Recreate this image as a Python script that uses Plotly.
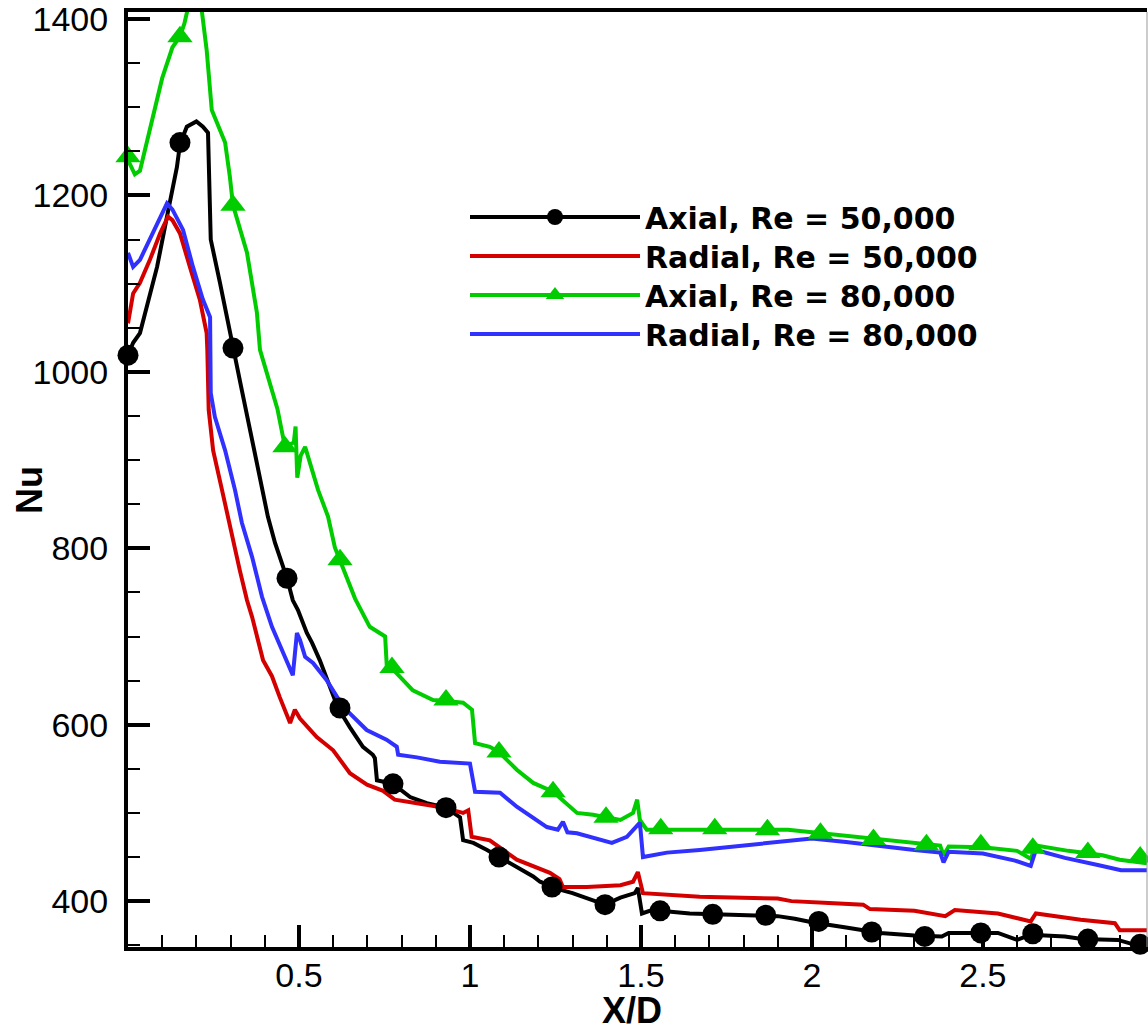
import plotly.graph_objects as go

# ---------------- data ----------------
axial50_x = [0.0, 0.015, 0.035, 0.055, 0.085, 0.114, 0.143, 0.152, 0.172, 0.2, 0.219, 0.234, 0.238, 0.242,
             0.269, 0.298, 0.307, 0.333, 0.357, 0.38, 0.409, 0.43, 0.45, 0.465, 0.482, 0.497, 0.523, 0.538,
             0.561, 0.591, 0.614, 0.649, 0.687, 0.716, 0.722, 0.728, 0.766, 0.775, 0.825, 0.874, 0.93, 0.971,
             0.98, 1.01, 1.05, 1.085, 1.137, 1.185, 1.205, 1.24, 1.263, 1.30, 1.322, 1.36, 1.395, 1.44, 1.482,
             1.491, 1.503, 1.526, 1.556, 1.643, 1.71, 1.79, 1.9, 1.95, 2.0, 2.1, 2.2, 2.3, 2.38, 2.40, 2.544,
             2.60, 2.64, 2.74, 2.79, 2.895, 2.94, 2.98]
axial50_nu = [1019, 1033, 1044, 1074, 1119, 1176, 1232, 1258, 1278, 1284, 1278, 1271, 1200, 1150,
              1101, 1048, 1027, 979, 934, 892, 836, 806, 783, 766, 741, 730, 704, 693,
              673, 643, 619, 597, 575, 566, 562, 537, 534, 533, 518, 511, 506, 495,
              469, 466, 458, 450, 439, 428, 422, 416, 413, 409, 406, 401, 396, 404, 409,
              415, 386, 389, 389, 386, 385, 384, 383, 380, 376, 370, 364, 361, 360, 364, 364,
              356, 362, 360, 357, 356, 351, 350]

radial50_x = [0.0, 0.015, 0.035, 0.064, 0.094, 0.117, 0.13, 0.152, 0.181, 0.21, 0.23, 0.232, 0.236, 0.249,
              0.275, 0.304, 0.327, 0.348, 0.363, 0.395, 0.421, 0.444, 0.474, 0.488, 0.503, 0.552, 0.6, 0.649,
              0.699, 0.746, 0.78, 0.845, 0.921, 0.98, 0.995, 1.005, 1.058, 1.137, 1.234, 1.262, 1.272, 1.342,
              1.44, 1.477, 1.491, 1.506, 1.672, 1.9, 1.94, 2.05, 2.15, 2.17, 2.30, 2.39, 2.418, 2.544, 2.64,
              2.655, 2.786, 2.886, 2.90, 2.98]
radial50_nu = [1055, 1089, 1101, 1127, 1157, 1176, 1172, 1157, 1119, 1082, 1044, 1025, 957, 911,
               866, 813, 775, 741, 722, 673, 655, 631, 602, 617, 607, 586, 571, 545,
               532, 525, 515, 511, 506, 500, 503, 473, 469, 447, 432, 425, 416, 416,
               418, 422, 433, 409, 405, 403, 400, 398, 396, 391, 389, 383, 390, 386, 377,
               386, 379, 375, 367, 367]

axial80_x = [0.0, 0.02, 0.035, 0.06, 0.08, 0.10, 0.13, 0.152, 0.165, 0.175, 0.215, 0.23, 0.245, 0.284,
             0.298, 0.307, 0.348, 0.377, 0.386, 0.409, 0.437, 0.459, 0.485, 0.49, 0.495, 0.505, 0.518,
             0.556, 0.585, 0.605, 0.62, 0.664, 0.707, 0.737, 0.752, 0.757, 0.772, 0.833, 0.892, 0.93,
             0.98, 1.006, 1.015, 1.058, 1.085, 1.137, 1.185, 1.243, 1.313, 1.36, 1.398, 1.44, 1.477,
             1.489, 1.497, 1.517, 1.93, 2.0, 2.1, 2.2, 2.3, 2.375, 2.385, 2.40, 2.5, 2.6, 2.64, 2.655,
             2.75, 2.85, 2.9, 2.98]
axial80_nu = [1240, 1224, 1228, 1270, 1300, 1333, 1368, 1380, 1395, 1412, 1412, 1365, 1297, 1260,
              1221, 1189, 1135, 1067, 1025, 994, 958, 915, 920, 938, 880, 905, 915,
              866, 836, 801, 787, 743, 711, 704, 700, 665, 664, 639, 628, 627,
              625, 617, 579, 575, 569, 549, 534, 524, 500, 498, 495, 492, 500,
              515, 492, 481, 481, 478, 474, 470, 466, 463, 452, 462, 461, 457, 448, 463,
              457, 452, 447, 443]

radial80_x = [0.0, 0.015, 0.035, 0.064, 0.094, 0.114, 0.13, 0.161, 0.19, 0.219, 0.24, 0.242, 0.254, 0.284,
              0.313, 0.333, 0.363, 0.392, 0.421, 0.45, 0.482, 0.494, 0.503, 0.518, 0.541, 0.58, 0.63,
              0.698, 0.756, 0.786, 0.79, 0.845, 0.912, 1.0, 1.015, 1.088, 1.137, 1.225, 1.257, 1.272,
              1.285, 1.313, 1.38, 1.415, 1.459, 1.497, 1.506, 1.576, 1.672, 1.813, 1.95, 2.0, 2.1, 2.2,
              2.3, 2.375, 2.385, 2.40, 2.5, 2.594, 2.64, 2.655, 2.74, 2.836, 2.904, 2.98]
radial80_nu = [1135, 1119, 1127, 1150, 1176, 1191, 1184, 1161, 1119, 1082, 1062, 976, 949, 911,
               866, 829, 790, 745, 711, 685, 656, 704, 696, 677, 670, 651, 620,
               594, 583, 575, 566, 563, 558, 556, 524, 523, 507, 484, 481, 490,
               478, 477, 469, 466, 473, 489, 450, 455, 458, 464, 469, 471, 467, 462,
               458, 455, 444, 456, 454, 446, 440, 458, 449, 441, 435, 435]

axial50_mx = [0.0, 0.152, 0.307, 0.465, 0.62, 0.775, 0.93, 1.085, 1.24, 1.395, 1.556, 1.71, 1.865, 2.02,
              2.175, 2.33, 2.494, 2.646, 2.807, 2.96]
axial50_my = [1019, 1260, 1027, 766, 619, 533, 506, 450, 416, 396, 389, 385, 384, 377,
              365, 360, 364, 363, 357, 351]

axial80_mx = [0.0, 0.152, 0.307, 0.459, 0.62, 0.772, 0.93, 1.085, 1.243, 1.398, 1.558, 1.716, 1.87, 2.025,
              2.18, 2.335, 2.494, 2.646, 2.807, 2.96]
axial80_my = [1244, 1380, 1189, 915, 787, 665, 628, 569, 524, 495, 482, 482, 481, 477,
              470, 464, 464, 460, 455, 450]

series_names = ["Axial, Re = 50,000", "Radial, Re = 50,000", "Axial, Re = 80,000", "Radial, Re = 80,000"]
x_tickvals = [0.5, 1, 1.5, 2, 2.5]
x_ticktext = ["0.5", "1", "1.5", "2", "2.5"]
y_tickvals = [400, 600, 800, 1000, 1200, 1400]
y_ticktext = ["400", "600", "800", "1000", "1200", "1400"]

# ---------------- style ----------------
BLACK = "#000000"
RED = "#D40000"
GREEN = "#00CC00"
BLUE = "#3030FF"
LW = 4

fig = go.Figure()

# lines
fig.add_trace(go.Scatter(x=axial50_x, y=axial50_nu, mode="lines", line=dict(color=BLACK, width=LW),
                         showlegend=False, hoverinfo="skip"))
fig.add_trace(go.Scatter(x=radial50_x, y=radial50_nu, mode="lines", line=dict(color=RED, width=LW),
                         showlegend=False, hoverinfo="skip"))
fig.add_trace(go.Scatter(x=axial80_x, y=axial80_nu, mode="lines", line=dict(color=GREEN, width=LW),
                         showlegend=False, hoverinfo="skip"))
fig.add_trace(go.Scatter(x=radial80_x, y=radial80_nu, mode="lines", line=dict(color=BLUE, width=LW),
                         showlegend=False, hoverinfo="skip"))
# symbols
fig.add_trace(go.Scatter(x=axial50_mx, y=axial50_my, mode="markers", cliponaxis=False,
                         marker=dict(symbol="circle", size=21, color=BLACK), showlegend=False))
fig.add_trace(go.Scatter(x=axial80_mx, y=axial80_my, mode="markers", cliponaxis=False,
                         marker=dict(symbol="triangle-up", size=22, color=GREEN), showlegend=False))

# legend entries (one legend per row so the row spacing can match)
legend_ids = ["legend", "legend2", "legend3", "legend4"]
fig.add_trace(go.Scatter(x=[None], y=[None], mode="lines+markers", name=series_names[0], legend=legend_ids[0],
                         line=dict(color=BLACK, width=LW), marker=dict(symbol="circle", size=20, color=BLACK)))
fig.add_trace(go.Scatter(x=[None], y=[None], mode="lines", name=series_names[1], legend=legend_ids[1],
                         line=dict(color=RED, width=LW)))
fig.add_trace(go.Scatter(x=[None], y=[None], mode="lines+markers", name=series_names[2], legend=legend_ids[2],
                         line=dict(color=GREEN, width=LW), marker=dict(symbol="triangle-up", size=20, color=GREEN)))
fig.add_trace(go.Scatter(x=[None], y=[None], mode="lines", name=series_names[3], legend=legend_ids[3],
                         line=dict(color=BLUE, width=LW)))

tickfont = dict(family="Liberation Sans, Arial, sans-serif", size=34, color="black")
legfont = dict(family="DejaVu Sans, sans-serif", size=30, color="black", weight="bold")

def leg(ypix):
    return dict(x=(465 - 128) / 1019, y=(947 - ypix) / 935, xanchor="left", yanchor="middle",
                bgcolor="rgba(0,0,0,0)", borderwidth=0, itemwidth=170, font=legfont)

fig.update_layout(
    width=1148, height=1033,
    margin=dict(l=128, r=1, t=12, b=86),
    paper_bgcolor="white", plot_bgcolor="white",
    showlegend=True,
    legend=leg(217), legend2=leg(256), legend3=leg(295), legend4=leg(334),
    xaxis=dict(range=[0, 2.98], tickmode="array", tickvals=x_tickvals, ticktext=x_ticktext,
               ticks="inside", ticklen=22, tickwidth=4, tickcolor="black",
               showline=True, linewidth=4, linecolor="black", mirror=True,
               showgrid=False, zeroline=False, tickfont=tickfont, ticklabelstandoff=-5,
               ticklabeloverflow="allow",
               minor=dict(tickmode="linear", tick0=0, dtick=0.1, ticks="inside", ticklen=12,
                          tickwidth=2, tickcolor="black", showgrid=False)),
    yaxis=dict(range=[348, 1408], tickmode="array", tickvals=y_tickvals, ticktext=y_ticktext,
               ticks="inside", ticklen=22, tickwidth=4, tickcolor="black",
               showline=True, linewidth=4, linecolor="black", mirror=False,
               showgrid=False, zeroline=False, tickfont=tickfont, ticklabelstandoff=9,
               ticklabeloverflow="allow",
               minor=dict(tickmode="linear", tick0=0, dtick=50, ticks="inside", ticklen=12,
                          tickwidth=2, tickcolor="black", showgrid=False)),
    shapes=[dict(type="line", xref="paper", yref="paper", x0=1, x1=1, y0=0, y1=1,
                 line=dict(color="#999999", width=1))],
    annotations=[
        dict(text="<b>Nu</b>", xref="paper", yref="paper", x=(29 - 128) / 1019, y=(947 - 490) / 935,
             xanchor="center", yanchor="middle", showarrow=False, textangle=-90,
             font=dict(family="Liberation Sans, Arial, sans-serif", size=36, color="black")),
        dict(text="<b>X/D</b>", xref="paper", yref="paper", x=(632 - 128) / 1019, y=(947 - 1010) / 935,
             xanchor="center", yanchor="middle", showarrow=False,
             font=dict(family="Liberation Sans, Arial, sans-serif", size=36, color="black")),
    ],
)

fig.write_html("out.html")
